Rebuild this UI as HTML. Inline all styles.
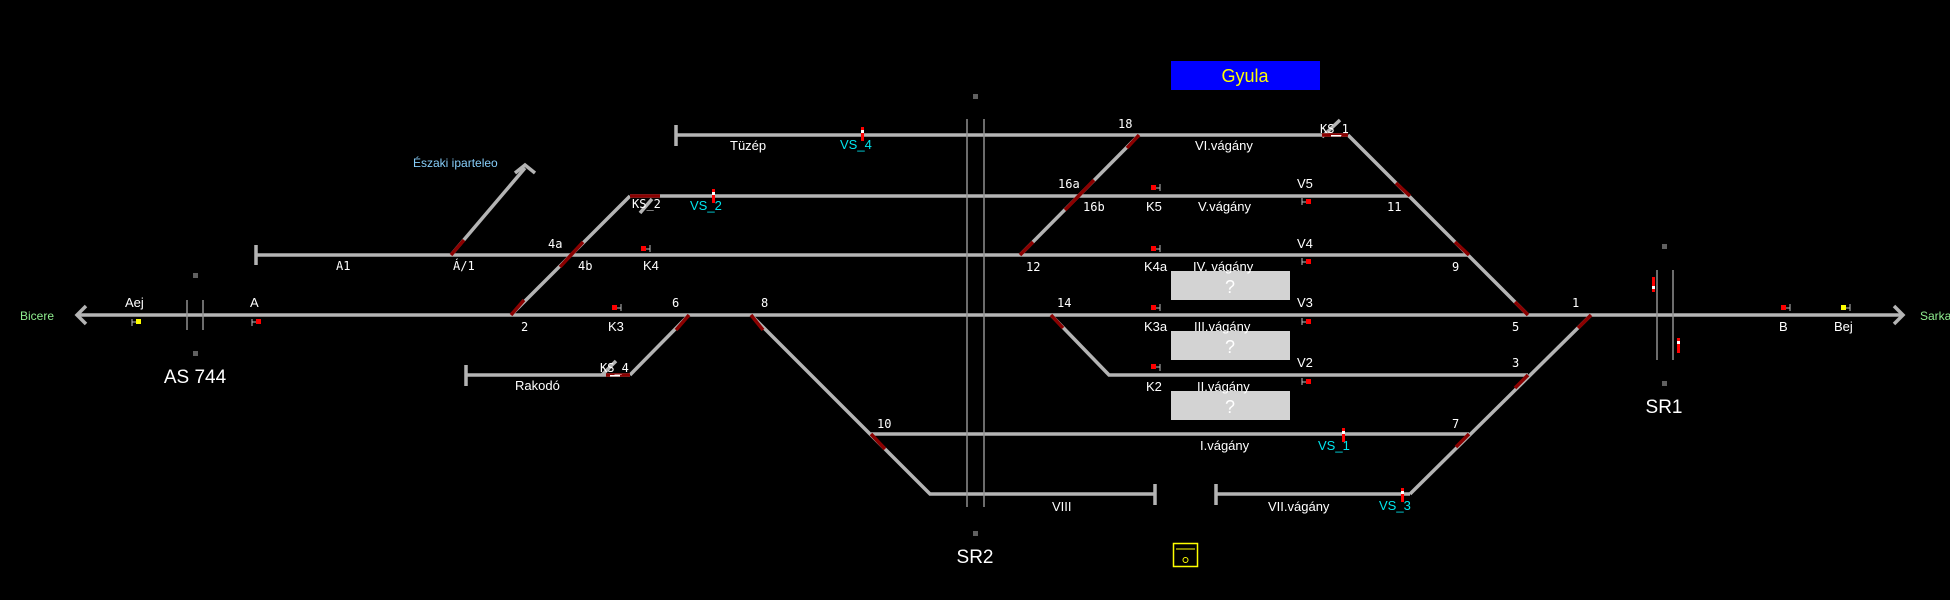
<!DOCTYPE html>
<html><head><meta charset="utf-8"><style>
html,body{margin:0;padding:0;background:#000;}
svg{display:block}
text{font-family:"Liberation Sans","DejaVu Sans",sans-serif;font-size:13px;fill:#fff}
.m{font-family:"DejaVu Sans Mono","Liberation Mono",monospace;font-size:12px}
.c{fill:#00e5ee}
.big{font-size:19px}
</style></head><body>
<svg width="1950" height="600" viewBox="0 0 1950 600" xmlns="http://www.w3.org/2000/svg">
<rect width="1950" height="600" fill="#000"/>
<g stroke="#b4b4b4" stroke-width="3.5" fill="none" stroke-linecap="butt">
<line x1="77" y1="315" x2="1903" y2="315"/>
<polyline points="86,306 77,315 86,324"/>
<polyline points="1894,306 1903,315 1894,324"/>
<line x1="256" y1="255" x2="1469" y2="255"/>
<line x1="256" y1="245" x2="256" y2="265"/>
<line x1="676" y1="135" x2="1348" y2="135"/>
<line x1="676" y1="125" x2="676" y2="146"/>
<line x1="630" y1="196" x2="1410" y2="196"/>
<line x1="466" y1="375" x2="630" y2="375"/>
<line x1="466" y1="365" x2="466" y2="386"/>
<line x1="630" y1="375" x2="689" y2="315"/>
<line x1="511" y1="315" x2="630" y2="196"/>
<line x1="451" y1="255" x2="525" y2="168"/>
<polyline points="515,173 525,165 535,173"/>
<polyline points="751,315 930,494 1155,494"/>
<line x1="1155" y1="484" x2="1155" y2="505"/>
<line x1="871" y1="434" x2="1469" y2="434"/>
<line x1="1216" y1="494" x2="1410" y2="494"/>
<line x1="1216" y1="484" x2="1216" y2="505"/>
<line x1="1410" y1="494" x2="1591" y2="315"/>
<line x1="1348" y1="135" x2="1528" y2="315"/>
<line x1="1020" y1="255" x2="1139" y2="135"/>
<polyline points="1051,315 1109,375 1528,375"/>
<line x1="1322" y1="137" x2="1340" y2="120"/>
<line x1="640" y1="213" x2="652" y2="199"/>
<line x1="602" y1="375" x2="616" y2="361"/>
</g>
<g stroke="#8b0000" stroke-width="3.5">
<line x1="451" y1="255" x2="464" y2="240"/>
<line x1="511" y1="315" x2="524" y2="300"/>
<line x1="560" y1="267" x2="583" y2="242"/>
<line x1="630" y1="196" x2="660" y2="196"/>
<line x1="606" y1="375" x2="630" y2="375"/>
<line x1="689" y1="315" x2="676" y2="330"/>
<line x1="751" y1="315" x2="763" y2="330"/>
<line x1="871" y1="434" x2="885" y2="449"/>
<line x1="1020" y1="255" x2="1033" y2="242"/>
<line x1="1065" y1="210" x2="1094" y2="180"/>
<line x1="1139" y1="135" x2="1127" y2="148"/>
<line x1="1051" y1="315" x2="1063" y2="328"/>
<line x1="1322" y1="135" x2="1348" y2="135"/>
<line x1="1396" y1="183" x2="1410" y2="196"/>
<line x1="1455" y1="242" x2="1469" y2="255"/>
<line x1="1515" y1="302" x2="1528" y2="315"/>
<line x1="1591" y1="315" x2="1578" y2="328"/>
<line x1="1528" y1="375" x2="1515" y2="388"/>
<line x1="1469" y1="434" x2="1456" y2="447"/>
</g>
<g stroke="#909090" stroke-width="1.5">
<line x1="187" y1="300" x2="187" y2="330"/><line x1="203" y1="300" x2="203" y2="330"/>
<line x1="967" y1="119" x2="967" y2="507"/><line x1="984" y1="119" x2="984" y2="507"/>
<line x1="1657" y1="270" x2="1657" y2="360"/><line x1="1673" y1="270" x2="1673" y2="360"/>
</g>
<g fill="#606060">
<rect x="193" y="273" width="5" height="5"/><rect x="193" y="351" width="5" height="5"/>
<rect x="973" y="94" width="5" height="5"/><rect x="973" y="531" width="5" height="5"/>
<rect x="1662" y="244" width="5" height="5"/><rect x="1662" y="381" width="5" height="5"/>
</g>
<g stroke="#bbb" stroke-width="1">
<path d="M132,319v7M132,322h5"/><path d="M252,319v7M252,322h5"/>
<path d="M621,304v7M617,308h4"/><path d="M650,245v7M646,249h4"/>
<path d="M1160,184v7M1156,188h4"/><path d="M1160,245v7M1156,249h4"/>
<path d="M1160,304v7M1156,308h4"/><path d="M1160,364v7M1156,367h4"/>
<path d="M1302,198v7M1302,202h4"/><path d="M1302,258v7M1302,262h4"/>
<path d="M1302,318v7M1302,322h4"/><path d="M1302,378v7M1302,382h4"/>
<path d="M1790,304v7M1786,308h4"/><path d="M1850,304v7M1846,308h4"/>
</g>
<g fill="#f00">
<rect x="136" y="319" width="5" height="5" fill="#ff0"/><rect x="256" y="319" width="5" height="5"/>
<rect x="612" y="305" width="5" height="5"/><rect x="641" y="246" width="5" height="5"/>
<rect x="1151" y="185" width="5" height="5"/><rect x="1151" y="246" width="5" height="5"/>
<rect x="1151" y="305" width="5" height="5"/><rect x="1151" y="364" width="5" height="5"/>
<rect x="1306" y="199" width="5" height="5"/><rect x="1306" y="259" width="5" height="5"/>
<rect x="1306" y="319" width="5" height="5"/><rect x="1306" y="379" width="5" height="5"/>
<rect x="1781" y="305" width="5" height="5"/><rect x="1841" y="305" width="5" height="5" fill="#ff0"/>
<rect x="861" y="127" width="3" height="14"/><rect x="712" y="189" width="3" height="14"/>
<rect x="1342" y="428" width="3" height="14"/><rect x="1401" y="488" width="3" height="14"/>
<rect x="1652" y="277" width="3" height="15"/><rect x="1677" y="338" width="3" height="15"/>
</g>
<g fill="#fff"><rect x="861" y="130" width="3" height="3"/><rect x="712" y="192" width="3" height="3"/>
<rect x="1342" y="431" width="3" height="3"/><rect x="1401" y="491" width="3" height="3"/>
<rect x="1652" y="286" width="3" height="3"/><rect x="1677" y="341" width="3" height="3"/>
<rect x="1331" y="135" width="10" height="1.5"/><rect x="610" y="375" width="10" height="1.5"/></g>
<rect x="1171" y="61" width="149" height="29" fill="#0000ff"/>
<text x="1245" y="82" text-anchor="middle" style="fill:#ff0;font-size:18px">Gyula</text>
<g fill="#d3d3d3"><rect x="1171" y="271" width="119" height="29"/><rect x="1171" y="331" width="119" height="29"/><rect x="1171" y="391" width="119" height="29"/></g>
<g text-anchor="middle"><text x="1230" y="293" style="font-size:18px">?</text><text x="1230" y="353" style="font-size:18px">?</text><text x="1230" y="413" style="font-size:18px">?</text></g>
<rect x="1173.5" y="543.5" width="24" height="23" fill="none" stroke="#ff0" stroke-width="1.5"/>
<line x1="1176" y1="549" x2="1195" y2="549" stroke="#ff0"/>
<circle cx="1185.5" cy="560" r="2.5" fill="none" stroke="#ff0"/>
<text x="20" y="320" style="fill:#90ee90;font-size:12px">Bicere</text>
<text x="1920" y="320" style="fill:#90ee90;font-size:12px">Sarkad</text>
<text x="413" y="167" style="fill:#87cefa;font-size:12px">Északi iparteleo</text>
<text x="125" y="307">Aej</text><text x="250" y="307">A</text>
<text x="195" y="383" text-anchor="middle" class="big">AS 744</text>
<text x="975" y="563" text-anchor="middle" class="big">SR2</text>
<text x="1664" y="413" text-anchor="middle" class="big">SR1</text>
<g class="m">
<text class="m" x="336" y="270">A1</text><text class="m" x="453" y="270">Á/1</text>
<text class="m" x="548" y="248">4a</text><text class="m" x="578" y="270">4b</text>
<text class="m" x="521" y="331">2</text><text class="m" x="672" y="307">6</text><text class="m" x="761" y="307">8</text>
<text class="m" x="632" y="208">KS_2</text><text class="m" x="600" y="372">KS_4</text>
<text class="m" x="877" y="428">10</text><text class="m" x="1118" y="128">18</text>
<text class="m" x="1320" y="133">KS_1</text>
<text class="m" x="1058" y="188">16a</text><text class="m" x="1083" y="211">16b</text>
<text class="m" x="1387" y="211">11</text><text class="m" x="1026" y="271">12</text>
<text class="m" x="1452" y="271">9</text><text class="m" x="1057" y="307">14</text>
<text class="m" x="1512" y="331">5</text><text class="m" x="1572" y="307">1</text>
<text class="m" x="1512" y="367">3</text><text class="m" x="1452" y="428">7</text>
</g>
<text x="643" y="270">K4</text><text x="608" y="331">K3</text>
<text x="730" y="150">Tüzép</text><text x="840" y="149" class="c">VS_4</text>
<text x="690" y="210" class="c">VS_2</text>
<text x="515" y="390">Rakodó</text>
<text x="1195" y="150">VI.vágány</text>
<text x="1146" y="211">K5</text><text x="1198" y="211">V.vágány</text><text x="1297" y="188">V5</text>
<text x="1144" y="271">K4a</text><text x="1193" y="271">IV. vágány</text><text x="1297" y="248">V4</text>
<text x="1297" y="307">V3</text><text x="1144" y="331">K3a</text><text x="1194" y="331">III.vágány</text>
<text x="1297" y="367">V2</text><text x="1146" y="391">K2</text><text x="1197" y="391">II.vágány</text>
<text x="1200" y="450">I.vágány</text><text x="1318" y="450" class="c">VS_1</text>
<text x="1052" y="511">VIII</text><text x="1268" y="511">VII.vágány</text><text x="1379" y="510" class="c">VS_3</text>
<text x="1779" y="331">B</text><text x="1834" y="331">Bej</text>
</svg>
</body></html>
